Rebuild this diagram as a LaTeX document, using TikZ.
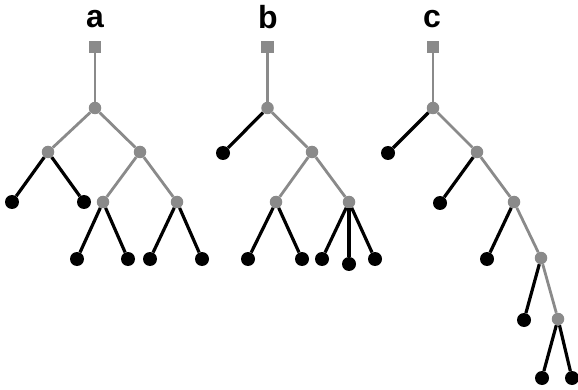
\documentclass[tikz,border=0pt]{standalone}
\usepackage{fontspec}
\setsansfont{Liberation Sans}
\begin{document}
\begin{tikzpicture}[x=1pt,y=-1pt,
  inner/.style={circle,fill=treegray,draw=none,minimum size=12.5pt,inner sep=0pt},
  leaf/.style={circle,fill=black,draw=none,minimum size=14pt,inner sep=0pt},
  rootsq/.style={rectangle,fill=treegray,draw=none,minimum size=12.5pt,inner sep=0pt},
  glink/.style={draw=treegray,line width=2.8pt},
  blink/.style={draw=black,line width=3.2pt},
  lbl/.style={font=\sffamily\bfseries\fontsize{32}{32}\selectfont,inner sep=0pt}]
\definecolor{treegray}{RGB}{138,138,138}
\useasboundingbox (0,0) rectangle (578,390);
% ---- tree a ----
\node[lbl] (la) at (95,19) {a};
\node[rootsq] (aS) at (95,47) {};
\node[inner] (aR) at (95,108) {};
\node[inner] (aL) at (48,152) {};
\node[inner] (aRR) at (140,152) {};
\node[leaf] (aL1) at (12,202) {};
\node[leaf] (aL2) at (84,202) {};
\node[inner] (aM1) at (103,202) {};
\node[inner] (aM2) at (177,202) {};
\node[leaf] (aB1) at (77,259) {};
\node[leaf] (aB2) at (128,259) {};
\node[leaf] (aB3) at (150,259) {};
\node[leaf] (aB4) at (202,259) {};
\draw[glink] (aS) -- (aR);
\draw[glink] (aR) -- (aL);
\draw[glink] (aR) -- (aRR);
\draw[glink] (aRR) -- (aM1);
\draw[glink] (aRR) -- (aM2);
\draw[blink] (aL) -- (aL1);
\draw[blink] (aL) -- (aL2);
\draw[blink] (aM1) -- (aB1);
\draw[blink] (aM1) -- (aB2);
\draw[blink] (aM2) -- (aB3);
\draw[blink] (aM2) -- (aB4);
% ---- tree b ----
\node[lbl] (lb) at (268,17) {b};
\node[rootsq] (bS) at (267.5,47) {};
\node[inner] (bR) at (267.5,108) {};
\node[leaf] (bL) at (223,153) {};
\node[inner] (bRR) at (312,152) {};
\node[inner] (bM1) at (276,202) {};
\node[inner] (bM2) at (349,202) {};
\node[leaf] (bB1) at (248,259) {};
\node[leaf] (bB2) at (302,259) {};
\node[leaf] (bB3) at (322,259) {};
\node[leaf] (bB4) at (349,264) {};
\node[leaf] (bB5) at (375,259) {};
\draw[glink] (bS) -- (bR);
\draw[glink] (bR) -- (bRR);
\draw[glink] (bRR) -- (bM1);
\draw[glink] (bRR) -- (bM2);
\draw[blink] (bR) -- (bL);
\draw[blink] (bM1) -- (bB1);
\draw[blink] (bM1) -- (bB2);
\draw[blink] (bM2) -- (bB3);
\draw[blink] (bM2) -- (bB4);
\draw[blink] (bM2) -- (bB5);
% ---- tree c ----
\node[lbl] (lc) at (432,19) {c};
\node[rootsq] (cS) at (433,47) {};
\node[inner] (cR) at (433,108) {};
\node[leaf] (cL1) at (388,153) {};
\node[inner] (c1) at (477,152) {};
\node[leaf] (cL2) at (440,203) {};
\node[inner] (c2) at (514,202) {};
\node[leaf] (cL3) at (487,259) {};
\node[inner] (c3) at (541,258) {};
\node[leaf] (cL4) at (524,320) {};
\node[inner] (c4) at (558,319) {};
\node[leaf] (cL5) at (542,378) {};
\node[leaf] (cL6) at (572,378) {};
\draw[glink] (cS) -- (cR);
\draw[glink] (cR) -- (c1);
\draw[glink] (c1) -- (c2);
\draw[glink] (c2) -- (c3);
\draw[glink] (c3) -- (c4);
\draw[blink] (cR) -- (cL1);
\draw[blink] (c1) -- (cL2);
\draw[blink] (c2) -- (cL3);
\draw[blink] (c3) -- (cL4);
\draw[blink] (c4) -- (cL5);
\draw[blink] (c4) -- (cL6);
\end{tikzpicture}
\end{document}
